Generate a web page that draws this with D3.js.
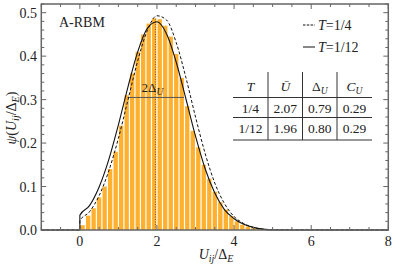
<!DOCTYPE html>
<html>
<head>
<meta charset="utf-8">
<script src="https://cdn.jsdelivr.net/npm/d3@7"></script>
<style>
  body { margin: 0; background: #fff; }
  svg { display: block; }
  text { font-family: "Liberation Serif", "DejaVu Serif", serif; fill: #222; }
</style>
</head>
<body>
<script>
// histogram (bin width 1/7, starting at 0)
var binWidth = 1 / 7;
var histHeights = [0.011, 0.033, 0.05, 0.075, 0.1, 0.14, 0.18, 0.24, 0.31, 0.36,
  0.41, 0.45, 0.475, 0.487, 0.485, 0.47, 0.445, 0.405, 0.35, 0.285,
  0.228, 0.19, 0.15, 0.118, 0.088, 0.064, 0.047, 0.032, 0.02, 0.012,
  0.008, 0.005, 0.003, 0.001];

// curves
var curveX = [-1, 0, 0, 0.25, 0.5, 0.75, 1, 1.25, 1.5, 1.75, 2, 2.25, 2.5, 2.75,
  3, 3.25, 3.5, 3.75, 4, 4.25, 4.5, 4.75, 5, 8];
var solidY = [0, 0, 0.034, 0.056, 0.099, 0.162, 0.242, 0.33, 0.41, 0.464, 0.479,
  0.451, 0.386, 0.302, 0.216, 0.141, 0.085, 0.047, 0.026, 0.013, 0.006, 0.002, 0, 0];
var dashedY = [0, 0, 0.021, 0.042, 0.079, 0.136, 0.211, 0.3, 0.389, 0.459, 0.493,
  0.483, 0.431, 0.351, 0.26, 0.176, 0.108, 0.061, 0.031, 0.015, 0.006, 0.002, 0.001, 0];

var meanU = 1.96, meanPeak = 0.485;
var spanX = [1.24, 2.70], spanY = 0.305;

var xTicks = [0, 2, 4, 6, 8];
var yTicks = [0, 0.1, 0.2, 0.3, 0.4, 0.5];

var tableHead = ["T", "Ū", "Δ", "C"];
var tableRows = [["1/4", "2.07", "0.79", "0.29"], ["1/12", "1.96", "0.80", "0.29"]];

var W = 397, H = 265;
var svg = d3.select("body").append("svg").attr("width", W).attr("height", H);

var x = d3.scaleLinear().domain([-1, 8]).range([41.3, 388.3]);
var y = d3.scaleLinear().domain([0, 0.52]).range([230, 4]);

// bars
svg.append("g").selectAll("rect").data(histHeights).enter().append("rect")
  .attr("x", function (d, i) { return x(i * binWidth) + 0.6; })
  .attr("width", x(binWidth) - x(0) - 1.2)
  .attr("y", function (d) { return y(d); })
  .attr("height", function (d) { return y(0) - y(d); })
  .attr("fill", "#ffb02e");

// mean marker and width
svg.append("line")
  .attr("x1", x(meanU)).attr("x2", x(meanU))
  .attr("y1", y(0)).attr("y2", y(meanPeak))
  .attr("stroke", "#6b5a3a").attr("stroke-width", 1).attr("stroke-dasharray", "1,1.5");
svg.append("line")
  .attr("x1", x(spanX[0])).attr("x2", x(spanX[1]))
  .attr("y1", y(spanY)).attr("y2", y(spanY))
  .attr("stroke", "#555").attr("stroke-width", 1);
var dl = svg.append("text").attr("x", x(meanU) - 3).attr("y", y(spanY) - 5)
  .attr("text-anchor", "middle").attr("font-size", 13);
dl.append("tspan").text("2Δ");
dl.append("tspan").attr("font-style", "italic").attr("font-size", 9.5).attr("dy", 3).text("U");

// curves
var pts = function (ys) { return curveX.map(function (v, i) { return [v, ys[i]]; }); };
var line = d3.line().x(function (d) { return x(d[0]); }).y(function (d) { return y(d[1]); })
  .curve(d3.curveMonotoneX);
svg.append("path").attr("d", line(pts(dashedY))).attr("fill", "none")
  .attr("stroke", "#111").attr("stroke-width", 1).attr("stroke-dasharray", "3,2");
svg.append("path").attr("d", line(pts(solidY))).attr("fill", "none")
  .attr("stroke", "#111").attr("stroke-width", 1.1);

// frame and ticks
var frame = svg.append("g").attr("stroke", "#666");
frame.append("rect").attr("x", x(-1)).attr("y", y(0.52))
  .attr("width", x(8) - x(-1)).attr("height", y(0) - y(0.52))
  .attr("fill", "none").attr("stroke-width", 1.5);
d3.range(-1, 8.01, 0.5).forEach(function (v) {
  var len = xTicks.indexOf(v) >= 0 ? 5 : 3;
  frame.append("line").attr("x1", x(v)).attr("x2", x(v)).attr("y1", y(0)).attr("y2", y(0) - len);
  frame.append("line").attr("x1", x(v)).attr("x2", x(v)).attr("y1", y(0.52)).attr("y2", y(0.52) + len);
});
d3.range(0, 0.521, 0.02).forEach(function (v) {
  var major = Math.abs(v * 10 - Math.round(v * 10)) < 1e-6;
  var len = major ? 5 : 3;
  frame.append("line").attr("y1", y(v)).attr("y2", y(v)).attr("x1", x(-1)).attr("x2", x(-1) + len);
  frame.append("line").attr("y1", y(v)).attr("y2", y(v)).attr("x1", x(8)).attr("x2", x(8) - len);
});

svg.append("g").selectAll("text").data(xTicks).enter().append("text")
  .attr("x", function (d) { return x(d); }).attr("y", 246)
  .attr("text-anchor", "middle").attr("font-size", 14).text(function (d) { return d; });
svg.append("g").selectAll("text").data(yTicks).enter().append("text")
  .attr("x", 37).attr("y", function (d) { return y(d) + 5; })
  .attr("text-anchor", "end").attr("font-size", 14).text(function (d) { return d.toFixed(1); });

// axis labels
var xl = svg.append("text").attr("x", 216).attr("y", 259).attr("text-anchor", "middle").attr("font-size", 14);
xl.append("tspan").attr("font-style", "italic").text("U");
xl.append("tspan").attr("font-style", "italic").attr("font-size", 10).attr("dy", 3).text("ij");
xl.append("tspan").attr("dy", -3).text("/Δ");
xl.append("tspan").attr("font-style", "italic").attr("font-size", 10).attr("dy", 3).text("E");

var yl = svg.append("text").attr("transform", "translate(16,118) rotate(-90)")
  .attr("text-anchor", "middle").attr("font-size", 14);
yl.append("tspan").attr("font-style", "italic").text("ψ");
yl.append("tspan").text("(");
yl.append("tspan").attr("font-style", "italic").text("U");
yl.append("tspan").attr("font-style", "italic").attr("font-size", 10).attr("dy", 3).text("ij");
yl.append("tspan").attr("dy", -3).text("/Δ");
yl.append("tspan").attr("font-style", "italic").attr("font-size", 10).attr("dy", 3).text("E");
yl.append("tspan").attr("dy", -3).text(")");

svg.append("text").attr("x", 59).attr("y", 27).attr("font-size", 14).text("A-RBM");

// legend
var leg = [{ label: "1/4", dash: "2.5,1.3", y: 25 }, { label: "1/12", dash: null, y: 47 }];
leg.forEach(function (l) {
  svg.append("line").attr("x1", 303).attr("x2", 315).attr("y1", l.y).attr("y2", l.y)
    .attr("stroke", "#111").attr("stroke-width", 1).attr("stroke-dasharray", l.dash);
  var t = svg.append("text").attr("x", 318).attr("y", l.y + 5).attr("font-size", 14);
  t.append("tspan").attr("font-style", "italic").text("T");
  t.append("tspan").text("=" + l.label);
});

// table
var colX = [233, 268, 302.5, 337, 372];
var rowY = [72, 97.5, 117.5, 140];
var tb = svg.append("g").attr("stroke", "#333").attr("stroke-width", 1);
[1, 2, 3].forEach(function (r) {
  tb.append("line").attr("x1", colX[0]).attr("x2", colX[4]).attr("y1", rowY[r]).attr("y2", rowY[r]);
});
[1, 2, 3].forEach(function (c) {
  tb.append("line").attr("x1", colX[c]).attr("x2", colX[c]).attr("y1", rowY[0]).attr("y2", rowY[3]);
});
tableHead.forEach(function (h, c) {
  var t = svg.append("text").attr("x", (colX[c] + colX[c + 1]) / 2).attr("y", 91)
    .attr("text-anchor", "middle").attr("font-size", 13.5);
  t.append("tspan").attr("font-style", c === 2 ? null : "italic").text(h);
  if (c >= 2) t.append("tspan").attr("font-style", "italic").attr("font-size", 9.5).attr("dy", 3).text("U");
});
tableRows.forEach(function (row, r) {
  row.forEach(function (v, c) {
    svg.append("text").attr("x", (colX[c] + colX[c + 1]) / 2).attr("y", rowY[r + 1] + 15)
      .attr("text-anchor", "middle").attr("font-size", 13.5).text(v);
  });
});
</script>
</body>
</html>
